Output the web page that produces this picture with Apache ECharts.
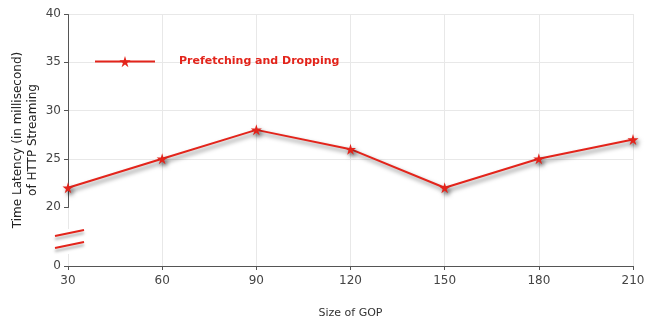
<!DOCTYPE html>
<html>
<head>
<meta charset="utf-8">
<script src="https://cdn.jsdelivr.net/npm/echarts@6/dist/echarts.min.js"></script>
<style>
  html, body { margin: 0; padding: 0; background: #fff; }
  #chart { width: 645px; height: 320px; }
</style>
</head>
<body>
<div id="chart"></div>
<script>
// GOP sizes on the x axis
const gopSizes = ['30', '60', '90', '120', '150', '180', '210'];
// Latency (ms) measured for each GOP size
const latencyValues = [22, 25, 28, 26, 22, 25, 27];
const seriesName = 'Prefetching and Dropping';

const RED = '#e3241b';
const FONT = 'DejaVu Sans';
const STAR = 'path://M50,0 L61,35 L98,35 L68,57 L79,91 L50,70 L21,91 L32,57 L2,35 L39,35 Z';

const chart = echarts.init(document.getElementById('chart'), null, { renderer: 'canvas' });

const option = {
  animation: false,
  backgroundColor: '#fff',
  grid: { left: 68, right: 12, top: 14, bottom: 54, outerBoundsMode: 'none', containLabel: false },
  legend: {
    left: 89, top: 51,
    itemWidth: 60, itemHeight: 14, itemGap: 10,
    textStyle: { color: RED, fontFamily: FONT, fontSize: 11, fontWeight: 'bold', padding: [0, 0, 0, 19] },
    data: [seriesName]
  },
  xAxis: {
    type: 'category',
    data: gopSizes,
    boundaryGap: false,
    name: 'Size of GOP',
    nameLocation: 'middle',
    nameGap: 42,
    nameMoveOverlap: false,
    nameTextStyle: { color: '#333', fontFamily: FONT, fontSize: 11 },
    axisLine: { lineStyle: { color: '#555', width: 1 } },
    axisTick: { show: true, length: 4, lineStyle: { color: '#555' } },
    axisLabel: { color: '#444', fontFamily: FONT, fontSize: 12, margin: 9 },
    splitLine: { show: true, lineStyle: { color: '#e8e8e8', width: 1 } }
  },
  yAxis: {
    type: 'value',
    min: 0, max: 40, interval: 5,
    breaks: [{ start: 0, end: 20, gap: 6.1 }],
    breakArea: { show: false },
    name: 'Time Latency (in millisecond)\nof HTTP Streaming',
    nameLocation: 'middle',
    nameGap: 28,
    nameMoveOverlap: false,
    nameTextStyle: { color: '#222', fontFamily: FONT, fontSize: 12, lineHeight: 15 },
    axisLine: { show: true, lineStyle: { color: '#555', width: 1 } },
    axisTick: { show: true, length: 4, lineStyle: { color: '#555' } },
    axisLabel: { color: '#444', fontFamily: FONT, fontSize: 12, margin: 7 },
    splitLine: { show: true, lineStyle: { color: '#e8e8e8', width: 1 } }
  },
  series: [{
    name: seriesName,
    type: 'line',
    data: latencyValues,
    symbol: STAR,
    symbolSize: 11,
    lineStyle: {
      color: RED, width: 2,
      shadowColor: 'rgba(0,0,0,0.5)', shadowBlur: 4, shadowOffsetX: 2, shadowOffsetY: 3
    },
    itemStyle: {
      color: RED, borderWidth: 0,
      shadowColor: 'rgba(0,0,0,0.5)', shadowBlur: 4, shadowOffsetX: 2, shadowOffsetY: 3
    },
    emphasis: { disabled: true }
  }]
};

chart.setOption(option);

// Axis-break marks: gap in the axis line crossed by two slanted strokes
const ax = chart.convertToPixel({ gridIndex: 0 }, ['30', 0]);
const x0 = ax[0], yBase = ax[1];
const slash = (dy) => ({
  type: 'line',
  shape: { x1: x0 - 13, y1: yBase - dy, x2: x0 + 16, y2: yBase - dy - 6 },
  style: {
    stroke: RED, lineWidth: 2,
    shadowColor: 'rgba(0,0,0,0.35)', shadowBlur: 3, shadowOffsetY: 3
  },
  z: 100
});
chart.setOption({
  graphic: [
    { type: 'rect', shape: { x: x0 - 3, y: yBase - 37, width: 6, height: 25 }, style: { fill: '#fff' }, z: 99 },
    slash(30),
    slash(18)
  ]
});
</script>
</body>
</html>
